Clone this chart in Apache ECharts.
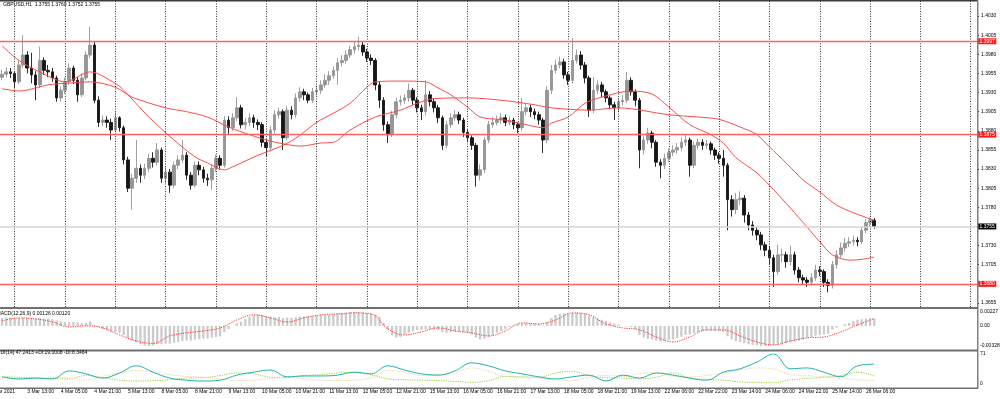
<!DOCTYPE html>
<html>
<head>
<meta charset="utf-8">
<script src="https://cdn.jsdelivr.net/npm/echarts/dist/echarts.min.js"></script>
<style>html,body{margin:0;padding:0;background:#fff}#myChart{width:1000px;height:399px}</style>
</head>
<body>
<div id="myChart"></div>
<script>
// GBPUSD H1 chart, candles grouped by 2 hours, prices in pips (1.3954 -> 13954)
const timeLabels = ['3 Mar 13:00','4 Mar 05:00','4 Mar 21:00','5 Mar 13:00','8 Mar 05:00','8 Mar 21:00','9 Mar 13:00','10 Mar 05:00','10 Mar 21:00','11 Mar 13:00','12 Mar 05:00','12 Mar 21:00','15 Mar 13:00','16 Mar 05:00','16 Mar 21:00','17 Mar 13:00','18 Mar 05:00','18 Mar 21:00','19 Mar 13:00','22 Mar 06:00','22 Mar 22:00','23 Mar 14:00','24 Mar 06:00','24 Mar 22:00','25 Mar 14:00','26 Mar 06:00'];

const opens = [
13950,13954,13957,13955,13944,13966,13979,13962,13953,13940,
13972,13959,13957,13949,13923,13933,13944,13962,13946,13927,
13949,13979,13992,13920,13891,13894,13891,13881,13897,13884,
13842,13805,13818,13831,13822,13831,13844,13839,13855,13818,
13826,13809,13835,13842,13848,13822,13809,13835,13829,13818,
13816,13831,13844,13835,13894,13884,13897,13910,13888,13891,
13897,13891,13888,13865,13858,13881,13901,13905,13871,13907,
13901,13923,13931,13927,13920,13931,13933,13940,13946,13952,
13959,13969,13972,13979,13986,13990,13992,13983,13975,13972,
13940,13920,13888,13875,13901,13918,13920,13923,13933,13920,
13910,13905,13927,13918,13910,13897,13861,13888,13897,13901,
13894,13878,13871,13861,13822,13829,13868,13888,13891,13894,
13897,13891,13894,13888,13884,13905,13910,13905,13901,13894,
13868,13933,13959,13966,13970,13953,13946,13972,13979,13966,
13949,13907,13933,13940,13931,13923,13914,13910,13918,13920,
13946,13931,13920,13855,13868,13877,13865,13839,13835,13844,
13852,13855,13858,13865,13868,13835,13861,13865,13861,13863,
13855,13848,13844,13835,13790,13777,13790,13792,13770,13757,
13750,13744,13731,13724,13714,13696,13718,13718,13709,13718,
13698,13688,13685,13682,13688,13698,13696,13682,13678,13705,
13718,13727,13733,13735,13737,13735,13750,13760,13763];

const closes = [
13954,13957,13955,13944,13966,13979,13962,13953,13940,13972,
13959,13957,13949,13923,13933,13944,13962,13946,13927,13949,
13979,13992,13920,13891,13894,13891,13881,13897,13884,13842,
13805,13818,13831,13822,13831,13844,13839,13855,13818,13826,
13809,13835,13842,13848,13822,13809,13835,13829,13818,13816,
13831,13844,13835,13894,13884,13897,13910,13888,13891,13897,
13891,13888,13865,13858,13881,13901,13905,13871,13907,13901,
13923,13931,13927,13920,13931,13933,13940,13946,13952,13959,
13969,13972,13979,13986,13990,13992,13983,13975,13972,13940,
13920,13888,13875,13901,13918,13920,13923,13933,13920,13910,
13905,13927,13918,13910,13897,13861,13888,13897,13901,13894,
13878,13871,13861,13822,13829,13868,13888,13891,13894,13897,
13891,13894,13888,13884,13905,13910,13905,13901,13894,13868,
13933,13959,13966,13970,13953,13946,13972,13979,13966,13949,
13907,13933,13940,13931,13923,13914,13910,13918,13920,13946,
13931,13920,13855,13868,13877,13865,13839,13835,13844,13852,
13855,13858,13865,13868,13835,13861,13865,13861,13863,13855,
13848,13844,13835,13790,13777,13790,13792,13770,13757,13750,
13744,13731,13724,13714,13696,13718,13718,13709,13718,13698,
13688,13685,13682,13688,13698,13696,13682,13678,13705,13718,
13727,13733,13735,13737,13735,13750,13760,13763,13755];

const highs = [
13960,13963,13962,13958,13972,14005,13984,13982,13958,13990,
13976,13966,13962,13952,13938,13950,13968,13965,13950,13955,
13984,14016,13996,13925,13900,13899,13896,13905,13899,13887,
13846,13824,13868,13836,13837,13850,13852,13864,13858,13834,
13830,13840,13848,13868,13852,13826,13840,13840,13833,13824,
13836,13849,13848,13899,13899,13903,13924,13914,13897,13903,
13901,13895,13891,13869,13886,13907,13910,13908,13912,13912,
13929,13937,13935,13930,13936,13939,13946,13954,13958,13964,
13975,13979,13985,13991,13996,14003,13996,13987,13980,13975,
13945,13924,13892,13906,13923,13926,13928,13942,13936,13924,
13914,13946,13932,13922,13914,13900,13893,13903,13907,13905,
13897,13882,13874,13864,13836,13872,13893,13898,13900,13903,
13901,13899,13897,13891,13923,13916,13914,13909,13905,13897,
13938,13966,13973,13977,13974,13957,14001,13986,13984,13970,
13952,13950,13946,13944,13934,13926,13918,13923,13927,13957,
13950,13934,13923,13873,13884,13880,13868,13843,13850,13857,
13861,13864,13871,13875,13871,13866,13870,13869,13868,13866,
13858,13852,13855,13838,13796,13799,13801,13796,13774,13762,
13755,13748,13735,13729,13718,13731,13726,13722,13730,13722,
13702,13692,13689,13694,13705,13703,13699,13686,13710,13724,
13734,13740,13741,13743,13741,13755,13765,13767,13766];

const lows = [
13946,13950,13949,13936,13941,13962,13955,13942,13920,13936,
13953,13950,13944,13918,13918,13928,13940,13941,13918,13924,
13946,13975,13916,13885,13886,13884,13868,13878,13879,13836,
13800,13777,13812,13812,13817,13826,13832,13835,13812,13812,
13799,13805,13830,13838,13816,13803,13806,13822,13812,13808,
13803,13826,13829,13832,13876,13880,13893,13883,13882,13886,
13884,13881,13859,13846,13853,13876,13896,13855,13868,13895,
13897,13918,13920,13916,13916,13926,13928,13936,13940,13948,
13940,13964,13968,13975,13981,13985,13978,13970,13966,13933,
13910,13880,13864,13872,13896,13913,13915,13918,13914,13904,
13894,13900,13912,13904,13890,13855,13857,13884,13893,13889,
13872,13865,13855,13807,13815,13825,13864,13884,13887,13889,
13886,13887,13882,13877,13880,13900,13898,13895,13888,13851,
13864,13928,13955,13962,13948,13940,13942,13968,13960,13942,
13898,13903,13928,13924,13917,13908,13894,13906,13913,13916,
13926,13912,13831,13849,13863,13857,13833,13818,13830,13839,
13847,13850,13853,13860,13820,13831,13856,13855,13856,13849,
13842,13837,13820,13750,13768,13771,13783,13760,13750,13743,
13737,13724,13716,13705,13676,13692,13708,13701,13704,13692,
13682,13679,13676,13678,13684,13690,13676,13669,13674,13700,
13713,13722,13728,13730,13729,13732,13746,13755,13752];

// moving averages read at chosen bars: [bar, pips]
const maFast = [[0,13991],[4,13972],[10,13954],[15,13944],[21,13957],[27,13942],[29,13933],[35,13898],[41,13868],[46,13846],[49,13838],[53,13829],[55,13833],[61,13848],[67,13861],[71,13874],[75,13891],[79,13903],[83,13916],[87,13937],[89,13944],[95,13945],[101,13944],[104,13936],[107,13927],[111,13911],[114,13898],[120,13894],[125,13888],[129,13884],[131,13890],[135,13898],[139,13916],[143,13924],[150,13932],[155,13928],[159,13911],[164,13888],[169,13875],[172,13864],[175,13845],[180,13825],[184,13803],[188,13779],[192,13754],[195,13735],[198,13718],[202,13711],[205,13712],[208,13715]];
const maSlow = [[0,13935],[4,13932],[11,13940],[15,13942],[21,13944],[27,13937],[31,13924],[39,13910],[44,13905],[49,13898],[54,13885],[59,13875],[63,13868],[67,13863],[71,13860],[76,13864],[79,13865],[83,13881],[89,13898],[95,13907],[99,13916],[103,13922],[111,13923],[119,13920],[127,13914],[131,13910],[140,13907],[147,13910],[159,13901],[166,13898],[171,13895],[176,13885],[180,13875],[183,13859],[187,13838],[191,13816],[195,13800],[199,13783],[203,13773],[208,13763]];

const levels = [1.3997, 1.3875, 1.3680];
const lastPrice = 1.3755;

// MACD main per bar, in 0.00001
const macdMain = [
130,135,135,130,125,130,132,128,120,125,120,118,110,
90,75,65,60,62,55,45,50,75,20,-20,
-50,-75,-95,-100,-115,-150,-200,
-240,-270,-300,-320,-328,-320,
-300,-300,-290,-290,-275,-260,-245,-240,-240,
-225,-215,-210,-205,-195,-180,-170,-100,
-50,0,40,70,110,150,175,185,180,160,150,
140,145,125,135,130,140,150,
155,160,160,170,175,180,185,195,205,210,215,220,225,227,220,210,200,185,150,
50,-60,-150,-190,-180,
-140,-110,-90,-70,-70,-60,-55,-60,-70,-100,
-110,-100,-95,-95,-105,-115,
-140,-190,-220,-210,-180,-150,
-110,-80,-50,-20,10,30,45,
50,45,40,30,10,
60,130,180,200,205,200,210,
215,210,200,170,140,120,
100,80,60,40,20,
0,-10,-20,-50,-150,
-190,-210,-220,-240,-250,-245,
-235,-220,-200,-175,-150,
-140,-120,-100,-90,-80,-75,-80,-85,-100,
-170,-220,-250,-260,
-280,-300,-310,-320,-328,-325,-328,-320,-310,-300,
-280,-270,-260,-240,-220,-200,
-180,-160,-150,-140,-130,
-60,-30,0,30,50,80,100,110,120,125,126];

// indicator lines read every 4th bar
const macdSignal = [82,131,114,65,-16,0,-33,-147,-245,-286,-163,-114,-82,-33,98,180,131,65,131,180,196,212,196,-49,-147,-98,-33,-82,-114,-163,-82,49,33,98,212,180,33,-33,-65,-180,-261,-180,-65,-65,-163,-261,-310,-245,-196,-180,-98,16,120];
const adx = [17,12,14,12,31,24,14,26,43,28,14,9,7,9,21,28,33,17,19,19,21,28,24,43,33,24,21,31,50,43,31,24,17,12,17,21,7,21,14,26,21,14,9,28,36,52,71,36,38,28,17,43,47];
const plusDi = [17,16,14,13,12,20,15,9,7,8,10,14,15,20,26,24,16,15,20,22,26,27,22,12,10,9,8,6,4,8,18,17,16,26,30,20,15,14,12,16,26,14,11,9,5,4,3,10,13,16,20,28,19];
const minusDi = [11,12,13,15,14,9,18,26,32,28,22,18,16,12,8,9,13,16,11,9,8,9,14,32,28,20,22,26,38,30,18,15,14,9,8,16,20,18,24,28,18,17,20,26,33,38,36,22,20,17,13,10,8];

const gridCols = [3,15,27,39,51,63,75,87,99,111,123,135,147,159,171,183,195,207,219,231];

const FONT = 'Liberation Sans';
const cats = Array.from({length: 233}, (_, i) => String(i));
const P = v => v / 10000;
const every4 = arr => arr.map((v, i) => [i * 4, v]);

let myChart = echarts.init(document.getElementById('myChart'));

const candleData = closes.map((c, i) => [P(opens[i]), P(c), P(lows[i]), P(highs[i])]);

const markData = gridCols.map(k => ({
    xAxis: k,
    label: {show: false},
    lineStyle: {color: '#3a3a3a', width: 1, type: [1, 1.5]}
}));
levels.forEach(v => markData.push({
    yAxis: v,
    lineStyle: {color: '#ff6060', width: 1.3, type: 'solid'},
    label: {show: true, position: 'end', distance: 1, formatter: v.toFixed(4), backgroundColor: '#ff1a1a', color: '#fff', fontSize: 5, fontFamily: FONT, padding: [0.5, 1.5], lineHeight: 5}
}));
markData.push({
    yAxis: lastPrice,
    lineStyle: {color: '#d4d4d4', width: 1.5, type: 'solid'},
    label: {show: true, position: 'end', distance: 1, formatter: lastPrice.toFixed(4), backgroundColor: '#000', color: '#fff', fontSize: 5, fontFamily: FONT, padding: [0.5, 1.5], lineHeight: 5}
});

const hiddenX = {type: 'category', data: cats, boundaryGap: true, show: false};
const gridBase = {left: 0, right: 23, containLabel: false, outerBoundsMode: 'none'};
const labelStyle = {fontSize: 5, fontFamily: FONT, color: '#000'};

myChart.setOption({
    animation: false,
    backgroundColor: '#fff',
    grid: [
        Object.assign({top: 0, height: 307}, gridBase),
        Object.assign({top: 3, height: 300}, gridBase),
        Object.assign({top: 312, height: 34}, gridBase),
        Object.assign({top: 354, height: 30}, gridBase)
    ],
    xAxis: [
        Object.assign({gridIndex: 0}, hiddenX),
        Object.assign({gridIndex: 1}, hiddenX),
        Object.assign({gridIndex: 2}, hiddenX),
        {
            gridIndex: 3, type: 'category', data: cats, boundaryGap: true,
            axisLine: {show: false}, axisTick: {show: false}, splitLine: {show: false},
            axisLabel: Object.assign({
                align: 'left', margin: 5.5,
                interval: i => i >= 6 && i <= 206 && (i - 6) % 8 === 0,
                formatter: (v, i) => timeLabels[(i - 6) / 8]
            }, labelStyle)
        }
    ],
    yAxis: [
        {gridIndex: 0, type: 'value', min: 1.364977, max: 1.405091, show: false},
        {
            gridIndex: 1, type: 'value', position: 'right', min: 1.3655, max: 1.4047, interval: 0.0025,
            axisLine: {show: false}, splitLine: {show: false},
            axisTick: {show: true, length: 2, lineStyle: {color: '#000'}},
            axisLabel: Object.assign({margin: 4, showMaxLabel: false, formatter: v => v.toFixed(4)}, labelStyle)
        },
        {
            gridIndex: 2, type: 'value', position: 'right', min: -0.00328, max: 0.00227, interval: 0.00328,
            axisLine: {show: false}, splitLine: {show: false}, axisTick: {show: false},
            axisLabel: Object.assign({margin: 3, showMaxLabel: true, showMinLabel: true,
                formatter: v => Math.abs(v) < 1e-9 ? '0.00' : v.toFixed(5)}, labelStyle)
        },
        {
            gridIndex: 3, type: 'value', position: 'right', min: 0, max: 71, interval: 71,
            axisLine: {show: false}, splitLine: {show: false}, axisTick: {show: false},
            axisLabel: Object.assign({margin: 3}, labelStyle)
        }
    ],
    series: [
        {
            type: 'candlestick', xAxisIndex: 0, yAxisIndex: 0,
            data: candleData, barWidth: 3.1,
            itemStyle: {color: '#959595', color0: '#161616', borderColor: '#959595', borderColor0: '#161616', borderWidth: 0.9},
            markLine: {silent: true, precision: 6, symbol: ['none', 'none'], animation: false, data: markData}
        },
        {
            type: 'line', xAxisIndex: 0, yAxisIndex: 0, symbol: 'none', smooth: 0.3, z: 4,
            data: maFast.map(([k, v]) => [k, P(v)]),
            lineStyle: {color: '#ff4a4a', width: 1}
        },
        {
            type: 'line', xAxisIndex: 0, yAxisIndex: 0, symbol: 'none', smooth: 0.3, z: 4,
            data: maSlow.map(([k, v]) => [k, P(v)]),
            lineStyle: {color: '#ff4a4a', width: 1}
        },
        {
            type: 'bar', xAxisIndex: 2, yAxisIndex: 2, barWidth: 2.3,
            data: macdMain.map(v => v / 100000),
            itemStyle: {color: '#cbcbcb'}
        },
        {
            type: 'line', xAxisIndex: 2, yAxisIndex: 2, symbol: 'none', smooth: 0.4,
            data: every4(macdSignal).map(([k, v]) => [k, v / 100000]),
            lineStyle: {color: '#ff3030', width: 1, type: [1.2, 1.2]}
        },
        {
            type: 'line', xAxisIndex: 3, yAxisIndex: 3, symbol: 'none', smooth: 0.4,
            data: every4(plusDi), lineStyle: {color: '#9acd32', width: 1, type: [1.2, 1.2]}
        },
        {
            type: 'line', xAxisIndex: 3, yAxisIndex: 3, symbol: 'none', smooth: 0.4,
            data: every4(minusDi), lineStyle: {color: '#f2cfa0', width: 1, type: [1.2, 1.2]}
        },
        {
            type: 'line', xAxisIndex: 3, yAxisIndex: 3, symbol: 'none', smooth: 0.4, z: 4,
            data: every4(adx), lineStyle: {color: '#20b2aa', width: 1}
        }
    ],
    graphic: [
        {type: 'rect', z: 100, shape: {x: 0, y: 0, width: 978, height: 1.5}, style: {fill: '#3c3c3c'}},
        {type: 'rect', z: 100, shape: {x: 977, y: 0, width: 1.5, height: 389}, style: {fill: '#808080'}},
        {type: 'rect', z: 100, shape: {x: 0, y: 307, width: 978, height: 2}, style: {fill: '#707070'}},
        {type: 'rect', z: 100, shape: {x: 0, y: 349.5, width: 978, height: 2}, style: {fill: '#707070'}},
        {type: 'rect', z: 100, shape: {x: 0, y: 387.5, width: 978, height: 1.5}, style: {fill: '#707070'}},
        {type: 'text', z: 100, x: 3, y: 4.7, style: {text: 'GBPUSD,H1  1.3755 1.3760 1.3752 1.3755', fontSize: 5, fontFamily: FONT, fill: '#000', verticalAlign: 'middle'}},
        {type: 'text', z: 100, x: -3.5, y: 313.3, style: {text: 'MACD(12,26,9) 0.00126 0.00120', fontSize: 5, fontFamily: FONT, fill: '#000', verticalAlign: 'middle'}},
        {type: 'text', z: 100, x: 0.5, y: 352.8, style: {text: 'DI(14) 47.2413 +DI:19.0008 -DI:8.3464', fontSize: 5, fontFamily: FONT, fill: '#000', verticalAlign: 'middle'}},
        {type: 'text', z: 100, x: 15, y: 392, style: {text: '2 Mar 2021', fontSize: 5, fontFamily: FONT, fill: '#000', align: 'right', verticalAlign: 'middle'}}
    ]
});
</script>
</body>
</html>
